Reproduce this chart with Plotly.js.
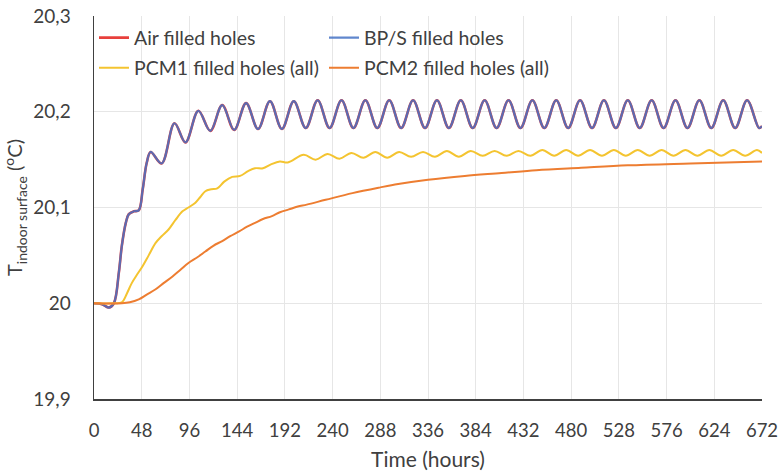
<!DOCTYPE html>
<html>
<head>
<meta charset="utf-8">
<script src="https://cdn.plot.ly/plotly-3.0.1.min.js"></script>
<style>html,body{margin:0;padding:0;background:#fff;}#chart{width:780px;height:475px;}</style>
</head>
<body>
<div id="chart"></div>
<script>
// ---- data ----
var seriesNames = ["Air filled holes", "BP/S filled holes", "PCM1 filled holes (all)", "PCM2 filled holes (all)"];

// BP/S (and Air, which coincides with it) : hours and temperature
var bpsHours = [0, 8, 15, 20, 25, 28, 32, 35, 40, 45, 49, 53, 57, 68, 81, 92, 105, 117, 129, 141, 153, 165, 177, 189,
  201, 213, 225, 237, 249, 261, 273, 285, 297, 309, 321, 333, 345, 357, 369, 381, 393, 405, 417, 429, 441, 453,
  465, 477, 489, 501, 513, 525, 537, 549, 561, 573, 585, 597, 609, 621, 633, 645, 657, 669, 672];
var bpsTemp = [20.000, 19.999, 19.9955, 20.000, 20.032, 20.060, 20.084, 20.093, 20.096, 20.097, 20.119, 20.1465, 20.158, 20.146, 20.188, 20.168, 20.201, 20.180, 20.207, 20.181, 20.209, 20.182, 20.211, 20.182,
  20.211, 20.183, 20.212, 20.183, 20.212, 20.183, 20.212, 20.183, 20.212, 20.183, 20.212, 20.183, 20.212, 20.183, 20.212, 20.183, 20.212, 20.183, 20.212, 20.183, 20.212, 20.183,
  20.212, 20.183, 20.212, 20.183, 20.212, 20.183, 20.212, 20.183, 20.212, 20.183, 20.212, 20.183, 20.212, 20.183, 20.212, 20.183, 20.212, 20.183, 20.185];
var airHours = bpsHours.slice();
var airTemp = bpsTemp.slice();

// PCM1 filled holes (all)
var pcm1Hours = [0, 20, 28, 33, 38, 44, 49, 55, 62, 68, 75, 82, 89, 95, 102, 107, 112, 118, 124, 131, 139, 147, 155, 162, 170, 178, 187, 195,
  211, 223, 235, 247, 259, 271, 283, 295, 307, 319, 331, 343, 355, 367, 379, 391, 403, 415, 427, 439, 451, 463,
  475, 487, 499, 511, 523, 535, 547, 559, 571, 583, 595, 607, 619, 631, 643, 655, 667, 672];
var pcm1Temp = [20.000, 20.000, 20.001, 20.010, 20.021, 20.031, 20.039, 20.050, 20.063, 20.070, 20.077, 20.087, 20.096, 20.100, 20.105, 20.111, 20.117, 20.119, 20.120, 20.127, 20.132, 20.133, 20.138, 20.141, 20.141, 20.145, 20.148, 20.147,
  20.155, 20.150, 20.156, 20.151, 20.157, 20.152, 20.158, 20.152, 20.158, 20.153, 20.158, 20.153, 20.159, 20.153, 20.159, 20.154, 20.159, 20.154, 20.159, 20.154, 20.160, 20.154,
  20.160, 20.154, 20.160, 20.154, 20.160, 20.154, 20.160, 20.154, 20.160, 20.154, 20.160, 20.154, 20.160, 20.154, 20.160, 20.154, 20.160, 20.157];

// PCM2 filled holes (all)
var pcm2Hours = [0, 28, 36, 45, 53, 62, 70, 79, 87, 95, 104, 112, 120, 129, 137, 146, 154, 162, 170, 179, 187, 196, 205, 214, 233, 260, 288, 306, 336, 373, 410, 445, 490, 537, 600, 672];
var pcm2Temp = [20.000, 20.000, 20.001, 20.004, 20.009, 20.0146, 20.021, 20.028, 20.035, 20.042, 20.048, 20.054, 20.060, 20.065, 20.070, 20.075, 20.080, 20.084, 20.088, 20.091, 20.095, 20.098, 20.101, 20.103, 20.108, 20.115, 20.121, 20.1245, 20.129, 20.133, 20.136, 20.139, 20.1415, 20.144, 20.146, 20.148];

// tick labels
var xTickVals = [0, 48, 96, 144, 192, 240, 288, 336, 384, 432, 480, 528, 576, 624, 672];
var yTickVals = [19.9, 20.0, 20.1, 20.2, 20.3];
var yTickText = ["19,9", "20", "20,1", "20,2", "20,3"];

// ---- chart ----
var FONT = "Lato, 'Open Sans', sans-serif";
var legendFont = {family: FONT, size: 19.5, color: "#404040"};
var traces = [
  {x: airHours, y: airTemp, name: seriesNames[0], mode: "lines", legend: "legend",
   line: {color: "#E8403C", width: 2.6, shape: "spline", smoothing: 1}},
  {x: bpsHours, y: bpsTemp, name: seriesNames[1], mode: "lines", opacity: 0.85, legend: "legend",
   line: {color: "#4472C4", width: 2.2, shape: "spline", smoothing: 1}},
  {x: pcm1Hours, y: pcm1Temp, name: seriesNames[2], mode: "lines", legend: "legend2",
   line: {color: "#F4C430", width: 2, shape: "spline", smoothing: 1}},
  {x: pcm2Hours, y: pcm2Temp, name: seriesNames[3], mode: "lines", legend: "legend2",
   line: {color: "#ED7D31", width: 2, shape: "spline", smoothing: 1}}
];

var layout = {
  width: 780, height: 475,
  margin: {l: 94, r: 18, t: 16, b: 76},
  paper_bgcolor: "#ffffff", plot_bgcolor: "#ffffff",
  font: {family: FONT, color: "#404040", size: 19},
  showlegend: true,
  legend: {
    orientation: "h", x: 0, xanchor: "left", y: 0.9426, yanchor: "middle",
    entrywidth: 185, entrywidthmode: "pixels",
    font: legendFont, bgcolor: "rgba(0,0,0,0)", itemwidth: 30
  },
  legend2: {
    orientation: "h", x: 0, xanchor: "left", y: 0.864, yanchor: "middle",
    entrywidth: 185, entrywidthmode: "pixels",
    font: legendFont, bgcolor: "rgba(0,0,0,0)", itemwidth: 30
  },
  xaxis: {
    range: [0, 672], tickvals: xTickVals, ticktext: xTickVals.map(String),
    showgrid: true, gridcolor: "#E6E6E6", gridwidth: 1,
    showline: true, linecolor: "#404040", linewidth: 1.5,
    zeroline: false, ticks: "", ticklabelstandoff: 14,
    tickfont: {family: FONT, size: 18.5, color: "#404040"},
    title: {text: "Time (hours)", font: {family: FONT, size: 21, color: "#404040"}, standoff: 12}
  },
  yaxis: {
    range: [19.9, 20.3], tickvals: yTickVals, ticktext: yTickText,
    showgrid: true, gridcolor: "#E6E6E6", gridwidth: 1,
    showline: true, linecolor: "#404040", linewidth: 1.5,
    zeroline: false, ticks: "", ticklabelstandoff: 18,
    tickfont: {family: FONT, size: 19, color: "#404040"},
    title: {text: "T<sub>indoor surface</sub> (<sup>o</sup>C)", font: {family: FONT, size: 20, color: "#404040"}, standoff: 5}
  }
};

Plotly.newPlot("chart", traces, layout, {displayModeBar: false, staticPlot: true});
</script>
</body>
</html>
